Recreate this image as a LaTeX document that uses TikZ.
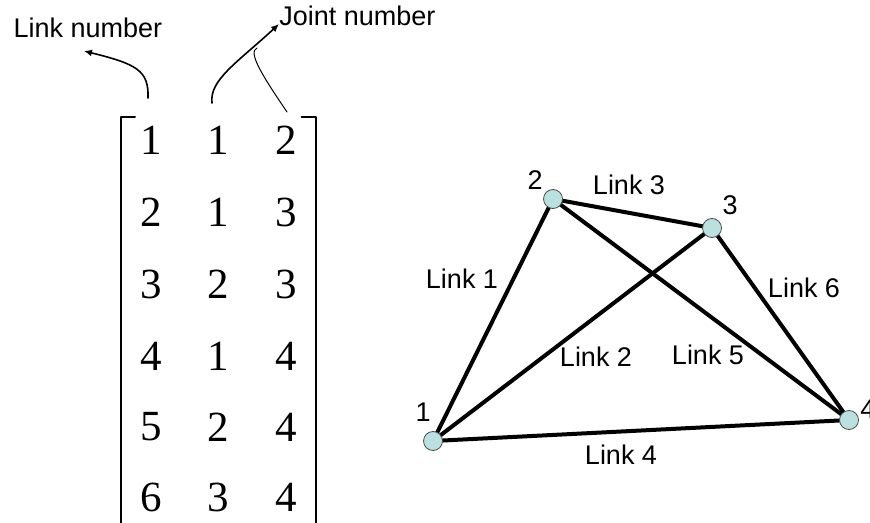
\documentclass[tikz,border=0pt]{standalone}
\usepackage{fontspec}
\setmainfont{Liberation Serif}
\setsansfont{Liberation Sans}
\usetikzlibrary{arrows.meta}

\definecolor{jointfill}{RGB}{186,224,224}
\newcommand{\labelfont}{\sffamily\fontsize{13.5}{16}\selectfont}
\newcommand{\digitfont}{\fontsize{21.5}{26}\selectfont}

\begin{document}
\begin{tikzpicture}[x=0.5pt,y=-0.5pt,line join=round,line cap=round]

  % ---- page (pixels of the sketch, y down) ----
  \useasboundingbox (0,0) rectangle (870,523);

  \tikzset{
    joint/.style={circle,draw=black!70,line width=0.4pt,fill=jointfill,minimum size=9.5pt,inner sep=0pt},
    linktxt/.style={font=\labelfont,inner sep=0pt},
    entry/.style={font=\digitfont,inner sep=0pt},
    link/.style={line width=2pt},
  }

  % ---- reference values ----
  % matrix columns
  \def\colA{151}
  \def\colB{218}
  \def\colC{286.5}
  % matrix rows
  \def\rowA{140}
  \def\rowB{212.5}
  \def\rowC{284}
  \def\rowD{356}
  \def\rowE{427}
  \def\rowF{497}
  % brackets
  \def\brkL{121}
  \def\brkR{315.5}
  \def\brkT{117}
  \def\brkS{14}     % serif length

  % ---- connectivity matrix ----
  \draw[line width=1pt] (\brkL+\brkS,\brkT) -- (\brkL,\brkT) -- (\brkL,523);
  \draw[line width=1pt] (\brkR-\brkS,\brkT) -- (\brkR,\brkT) -- (\brkR,523);

  \node[entry] (m11) at (\colA,\rowA) {1}; \node[entry] (m12) at (\colB,\rowA) {1}; \node[entry] (m13) at (\colC,\rowA) {2};
  \node[entry] (m21) at (\colA,\rowB) {2}; \node[entry] (m22) at (\colB,\rowB) {1}; \node[entry] (m23) at (\colC,\rowB) {3};
  \node[entry] (m31) at (\colA,\rowC) {3}; \node[entry] (m32) at (\colB,\rowC) {2}; \node[entry] (m33) at (\colC,\rowC) {3};
  \node[entry] (m41) at (\colA,\rowD) {4}; \node[entry] (m42) at (\colB,\rowD) {1}; \node[entry] (m43) at (\colC,\rowD) {4};
  \node[entry] (m51) at (\colA,\rowE) {5}; \node[entry] (m52) at (\colB,\rowE) {2}; \node[entry] (m53) at (\colC,\rowE) {4};
  \node[entry] (m61) at (\colA,\rowF) {6}; \node[entry] (m62) at (\colB,\rowF) {3}; \node[entry] (m63) at (\colC,\rowF) {4};

  % ---- column captions ----
  \node[linktxt] (linkcap) at (88,28) {Link number};
  \node[linktxt,anchor=west] (jointcap) at (279,16) {Joint number};

  \coordinate (linkfoot) at (148,98);
  \coordinate (linktip) at (84,51);
  \coordinate (jointfoot) at (212,103);
  \coordinate (jointtip) at (279,24);
  \coordinate (thirdfoot) at (287,112);
  \coordinate (thirdtop) at (257,48);

  \draw[line width=0.8pt,-{Latex[length=4pt,width=3.5pt]}] (linkfoot) .. controls (149,70) and (136,64) .. (linktip);
  \draw[line width=0.8pt,-{Latex[length=4pt,width=3.5pt]}] (jointfoot) .. controls (209,80) and (238,62) .. (jointtip);
  \draw[line width=0.5pt] (thirdfoot) .. controls (264,78) and (247,52) .. (thirdtop);

  % ---- four-bar sketch ----
  \coordinate (p1) at (433,441);
  \coordinate (p2) at (553,199);
  \coordinate (p3) at (712,228);
  \coordinate (p4) at (849,420);

  \draw[link] (p1) -- (p2);
  \draw[link] (p1) -- (p3);
  \draw[link] (p2) -- (p3);
  \draw[link] (p1) -- (p4);
  \draw[link] (p2) -- (p4);
  \draw[link] (p3) -- (p4);

  \node[joint] (j1) at (p1) {};
  \node[joint] (j2) at (p2) {};
  \node[joint] (j3) at (p3) {};
  \node[joint] (j4) at (p4) {};

  \node[linktxt] (n1) at (423,412) {1};
  \node[linktxt] (n2) at (535,180) {2};
  \node[linktxt] (n3) at (730,205) {3};
  \node[linktxt,anchor=west] (n4) at (860,409) {4};

  % ---- link names ----
  \node[linktxt] (l1) at (462,279) {Link 1};
  \node[linktxt] (l2) at (596,357) {Link 2};
  \node[linktxt] (l3) at (629,185) {Link 3};
  \node[linktxt] (l4) at (621,455) {Link 4};
  \node[linktxt] (l5) at (708,355) {Link 5};
  \node[linktxt] (l6) at (804,288) {Link 6};

\end{tikzpicture}
\end{document}
